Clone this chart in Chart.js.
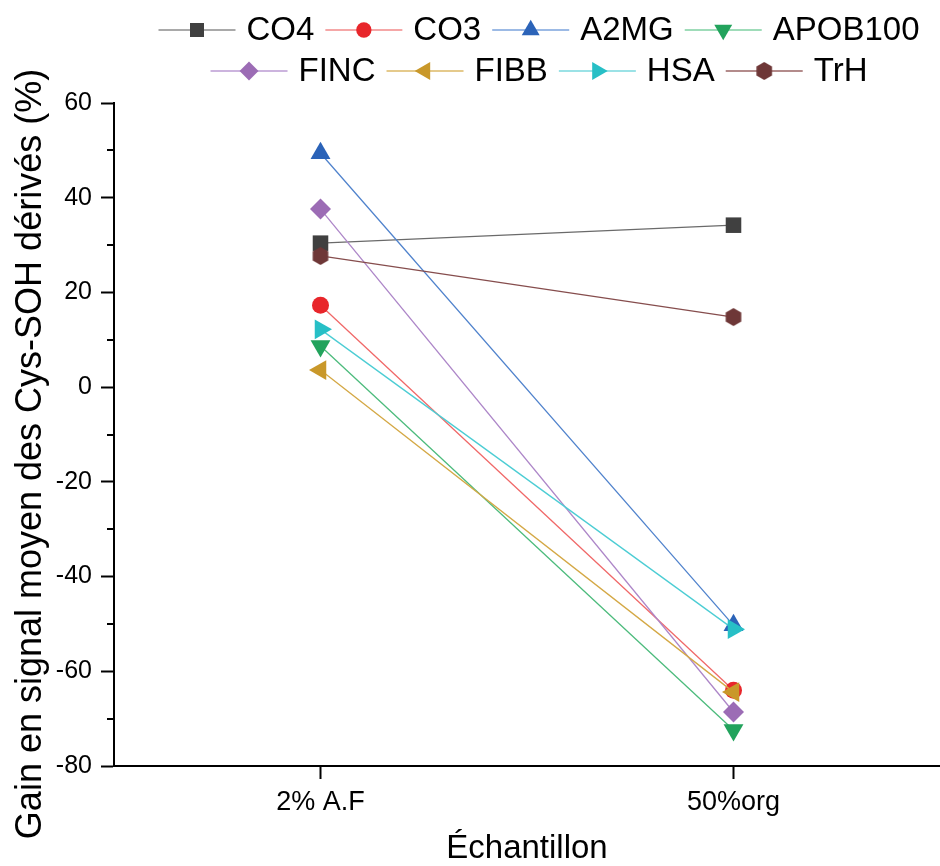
<!DOCTYPE html>
<html>
<head>
<meta charset="utf-8">
<script src="https://cdn.jsdelivr.net/npm/chart.js@4.4.1/dist/chart.umd.min.js"></script>
<style>
  html, body { margin: 0; padding: 0; background: #fff; }
  #wrap { width: 940px; height: 866px; }
</style>
</head>
<body>
<div id="wrap"><canvas id="chart" width="940" height="866"></canvas></div>
<script>
// data
const categories = ['2% A.F', '50%org'];
const seriesNames = ['CO4', 'CO3', 'A2MG', 'APOB100', 'FINC', 'FIBB', 'HSA', 'TrH'];
const co4 = [30.4, 34.2];
const co3 = [17.3, -64.0];
const a2mg = [49.4, -50.3];
const apob100 = [8.7, -72.4];
const finc = [37.6, -68.6];
const fibb = [3.6, -64.4];
const hsa = [12.2, -51.1];
const trh = [27.7, 14.8];
const yMajorTicks = [-80, -60, -40, -20, 0, 20, 40, 60];
const yMinorTicks = [-70, -50, -30, -10, 10, 30, 50];
const yTitle = 'Gain en signal moyen des Cys-SOH dérivés (%)';

const FONT = '"Liberation Sans", Arial, sans-serif';
Chart.defaults.font.family = FONT;
Chart.defaults.color = '#000';

// hexagon marker for TrH (no built-in style for it)
function hexagon(color, r) {
  const c = document.createElement('canvas');
  const s = Math.ceil(r * 2 + 2);
  c.width = s; c.height = s;
  const g = c.getContext('2d');
  g.fillStyle = color;
  g.beginPath();
  for (let i = 0; i < 6; i++) {
    const a = Math.PI / 3 * i;
    const px = s / 2 + Math.sin(a) * r, py = s / 2 - Math.cos(a) * r;
    i ? g.lineTo(px, py) : g.moveTo(px, py);
  }
  g.closePath();
  g.fill();
  return c;
}

const values = [co4, co3, a2mg, apob100, finc, fibb, hsa, trh];
const markerColors = ['#404040', '#e8262b', '#2b63b8', '#22a35c', '#9c6cb5', '#c9982a', '#27bfc6', '#6e3737'];
const lineColors = ['#6a6a6a', '#f06868', '#4f82cc', '#4cbb7c', '#ad86c8', '#d4a845', '#4ccdd4', '#864d4d'];
const legendLineColors = ['#8c8c8c', '#f28a8a', '#7ba3dc', '#7fd1a2', '#bb9bd3', '#ddb866', '#7ad9de', '#9a6565'];
const styles = ['rect', 'circle', 'triangle', 'triangle', 'rectRot', 'triangle', 'triangle', hexagon('#6e3737', 9)];
const rotations = [0, 0, 0, 180, 0, 270, 90, 0];
const radii = [11, 8.5, 11.5, 11.5, 10.5, 11.5, 11.5, 9];

const datasets = seriesNames.map((name, i) => ({
  label: name,
  data: values[i],
  borderColor: lineColors[i],
  borderWidth: 1.3,
  backgroundColor: markerColors[i],
  pointBackgroundColor: markerColors[i],
  pointBorderColor: markerColors[i],
  pointBorderWidth: 0,
  pointStyle: styles[i],
  pointRotation: rotations[i],
  pointRadius: radii[i],
  pointHoverRadius: radii[i],
  tension: 0,
  clip: false,
  order: seriesNames.length - i
}));

// legend drawn as line + marker + name, two centred rows
const legendPlugin = {
  id: 'lineLegend',
  afterDraw(chart) {
    const ctx = chart.ctx;
    const rows = [[0, 1, 2, 3], [4, 5, 6, 7]];
    const rowY = [30, 71];
    const lineLen = 77, textGap = 11, itemGap = 11, cx = 539;
    ctx.save();
    ctx.font = '33px ' + FONT;
    ctx.textBaseline = 'middle';
    rows.forEach((row, r) => {
      const widths = row.map(i => lineLen + textGap + ctx.measureText(seriesNames[i]).width);
      const total = widths.reduce((a, b) => a + b, 0) + itemGap * (row.length - 1);
      let x = cx - total / 2;
      row.forEach((i, k) => {
        const y = rowY[r];
        ctx.strokeStyle = legendLineColors[i];
        ctx.lineWidth = 1.5;
        ctx.beginPath();
        ctx.moveTo(x, y);
        ctx.lineTo(x + lineLen, y);
        ctx.stroke();
        ctx.fillStyle = markerColors[i];
        Chart.helpers.drawPoint(ctx, {
          pointStyle: styles[i], rotation: rotations[i], radius: radii[i] * 0.9, borderWidth: 0
        }, x + lineLen / 2, y);
        ctx.fillStyle = '#000';
        ctx.fillText(seriesNames[i], x + lineLen + textGap, y + 1);
        x += widths[k] + itemGap;
      });
    });
    ctx.restore();
  }
};

// short minor ticks between the labelled ones, and the y title
const axisExtras = {
  id: 'axisExtras',
  afterDraw(chart) {
    const y = chart.scales.y, ctx = chart.ctx;
    ctx.save();
    ctx.strokeStyle = '#000';
    ctx.lineWidth = 2;
    yMinorTicks.forEach(v => {
      const py = Math.round(y.getPixelForValue(v));
      ctx.beginPath();
      ctx.moveTo(y.right - 7, py);
      ctx.lineTo(y.right, py);
      ctx.stroke();
    });
    ctx.translate(31, 454);
    ctx.rotate(-Math.PI / 2);
    ctx.font = '36px ' + FONT;
    ctx.fillStyle = '#000';
    ctx.textAlign = 'center';
    ctx.textBaseline = 'middle';
    ctx.fillText(yTitle, 0, 0);
    ctx.restore();
  }
};

new Chart(document.getElementById('chart'), {
  type: 'line',
  data: { labels: categories, datasets: datasets },
  options: {
    responsive: false,
    animation: false,
    layout: { autoPadding: false, padding: { top: 103, left: 0, right: 0, bottom: 0 } },
    plugins: { legend: { display: false }, tooltip: { enabled: false } },
    scales: {
      x: {
        type: 'category',
        offset: true,
        grid: { drawOnChartArea: false, offset: false, tickLength: 13, tickWidth: 2, tickColor: '#000' },
        border: { color: '#000', width: 2 },
        ticks: { font: { size: 27 }, padding: 7, maxRotation: 0 },
        title: { display: true, text: 'Échantillon', font: { size: 33, lineHeight: 1 }, padding: { top: 0, bottom: 1 } },
        afterFit(s) { s.height = 100; s.paddingLeft = 0; s.paddingRight = 0; }
      },
      y: {
        min: -80,
        max: 60,
        afterBuildTicks(s) { s.ticks = yMajorTicks.map(v => ({ value: v })); },
        grid: { drawOnChartArea: false, tickLength: 13, tickWidth: 2, tickColor: '#000' },
        border: { color: '#000', width: 2 },
        ticks: { font: { size: 25 }, padding: 9, autoSkip: false },
        afterFit(s) { s.width = 114; }
      }
    }
  },
  plugins: [legendPlugin, axisExtras]
});
</script>
</body>
</html>
